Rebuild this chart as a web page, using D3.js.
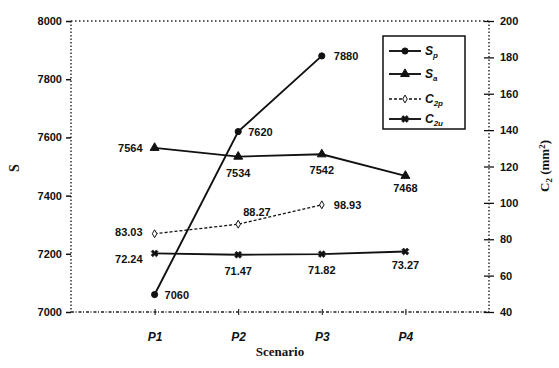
<!DOCTYPE html>
<html lang="en">
  <head>
    <meta charset="UTF-8" />
    <title>Scenario chart</title>
    <style>
      body { margin: 0; background: #fff; }
      text { font-family: "Liberation Sans", Arial, sans-serif; fill: #111; }
    </style>
  </head>
  <body>
    <div id="chart"></div>
    <script src="https://d3js.org/d3.v7.min.js"></script>
    <script>
      const scenarios = ["P1", "P2", "P3", "P4"];
      const sp = [7060, 7620, 7880];
      const sa = [7564, 7534, 7542, 7468];
      const c2p = [83.03, 88.27, 98.93];
      const c2u = [72.24, 71.47, 71.82, 73.27];
      const leftTicks = [7000, 7200, 7400, 7600, 7800, 8000];
      const rightTicks = [40, 60, 80, 100, 120, 140, 160, 180, 200];

      const width = 559, height = 368;
      const margin = { top: 21, right: 70, bottom: 56, left: 71 };

      const svg = d3.select("#chart").append("svg")
        .attr("width", width).attr("height", height);

      const x = d3.scaleLinear().domain([0, 5]).range([margin.left, width - margin.right]);
      const yL = d3.scaleLinear().domain([7000, 8000]).range([height - margin.bottom, margin.top]);
      const yR = d3.scaleLinear().domain([40, 200]).range([height - margin.bottom, margin.top]);

      const x0 = margin.left, x1 = width - margin.right;
      const y0 = height - margin.bottom, y1 = margin.top;

      // frame (dotted)
      const frame = svg.append("g").attr("stroke", "#222").attr("fill", "none");
      frame.append("line").attr("x1", x0).attr("x2", x1).attr("y1", y1).attr("y2", y1)
        .attr("stroke-width", 1.4).attr("stroke-dasharray", "1.5,2.5");
      frame.append("line").attr("x1", x0).attr("x2", x0).attr("y1", y1).attr("y2", y0)
        .attr("stroke-width", 1.4).attr("stroke-dasharray", "1.5,2");
      frame.append("line").attr("x1", x1).attr("x2", x1).attr("y1", y1).attr("y2", y0)
        .attr("stroke-width", 1.4).attr("stroke-dasharray", "1.5,2");
      frame.append("line").attr("x1", x0).attr("x2", x1).attr("y1", y0).attr("y2", y0)
        .attr("stroke-width", 1.4).attr("stroke-dasharray", "3,1.5,1,2");

      // left axis
      const gl = svg.append("g").attr("transform", `translate(${x0},0)`)
        .call(d3.axisLeft(yL).tickValues(leftTicks).tickSize(5).tickPadding(4).tickFormat(d3.format("d")));
      gl.select(".domain").remove();
      gl.selectAll("line").attr("stroke", "#111").attr("stroke-width", 1.5);
      gl.selectAll("text").attr("font-size", 11).attr("font-weight", "bold");

      // right axis
      const gr = svg.append("g").attr("transform", `translate(${x1},0)`)
        .call(d3.axisRight(yR).tickValues(rightTicks).tickSize(5).tickPadding(6));
      gr.select(".domain").remove();
      gr.selectAll("line").attr("stroke", "#111").attr("stroke-width", 1.3).attr("x1", -5);
      gr.selectAll("text").attr("font-size", 11).attr("font-weight", "bold");

      // bottom ticks / labels
      const gb = svg.append("g").attr("transform", `translate(0,${y0})`)
        .call(d3.axisBottom(x).tickValues([1, 2, 3, 4]).tickSize(3).tickPadding(17)
          .tickFormat((d) => scenarios[d - 1]));
      gb.select(".domain").remove();
      gb.selectAll("line").attr("stroke", "#111").attr("y1", -3);
      gb.selectAll("text").attr("font-size", 12).attr("font-weight", "bold").attr("font-style", "italic");

      // titles
      svg.append("text").attr("x", 280).attr("y", 356).attr("text-anchor", "middle")
        .style("font-family", "'Liberation Serif', serif").attr("font-weight", "bold").attr("font-size", 13)
        .text("Scenario");
      svg.append("text").attr("transform", "translate(19,168) rotate(-90)").attr("text-anchor", "middle")
        .style("font-family", "'Liberation Serif', serif").attr("font-weight", "bold").attr("font-size", 14)
        .text("S");
      const rt = svg.append("text").attr("transform", "translate(549,166) rotate(-90)").attr("text-anchor", "middle")
        .style("font-family", "'Liberation Serif', serif").attr("font-weight", "bold").attr("font-size", 13);
      rt.append("tspan").text("C");
      rt.append("tspan").attr("font-size", 9).attr("dy", 3).text("2");
      rt.append("tspan").attr("dy", -3).text(" (mm");
      rt.append("tspan").attr("font-size", 9).attr("dy", -4).text("2");
      rt.append("tspan").attr("dy", 4).text(")");

      const series = [
        { name: "S", sub: "p", vals: sp, y: yL, dash: null, sym: d3.symbolCircle, size: 30, fill: "#111" },
        { name: "S", sub: "a", vals: sa, y: yL, dash: null, sym: d3.symbolTriangle, size: 34, fill: "#111" },
        { name: "C", sub: "2p", vals: c2p, y: yR, dash: "3,2", sym: d3.symbolDiamond, size: 18, fill: "#fff" },
        { name: "C", sub: "2u", vals: c2u, y: yR, dash: null, sym: d3.symbolCross, size: 30, fill: "#111", xmark: true }
      ];

      series.forEach((s) => {
        const line = d3.line().x((d, i) => x(i + 1)).y((d) => s.y(d));
        svg.append("path").datum(s.vals).attr("d", line).attr("fill", "none")
          .attr("stroke", "#111").attr("stroke-width", s.dash ? 1.3 : 1.9)
          .attr("stroke-dasharray", s.dash);
        svg.selectAll(null).data(s.vals).enter().append("path")
          .attr("d", d3.symbol().type(s.sym).size(s.size))
          .attr("transform", (d, i) => `translate(${x(i + 1)},${s.y(d)})` + (s.xmark ? " rotate(45)" : ""))
          .attr("fill", s.fill).attr("stroke", "#111").attr("stroke-width", s.xmark ? 0.6 : 1);
      });

      // value labels
      const lab = (px, py, txt, anchor) => svg.append("text").attr("x", px).attr("y", py)
        .attr("text-anchor", anchor || "start").attr("font-size", 11).attr("font-weight", "bold").text(txt);
      lab(x(1) + 10, yL(sp[0]) + 4, sp[0]);
      lab(x(2) + 10, yL(sp[1]) + 4, sp[1]);
      lab(x(3) + 12, yL(sp[2]) + 4, sp[2]);
      lab(x(1) - 12, yL(sa[0]) + 4, sa[0], "end");
      lab(x(2), yL(sa[1]) + 20, sa[1], "middle");
      lab(x(3), yL(sa[2]) + 20, sa[2], "middle");
      lab(x(4), yL(sa[3]) + 16, sa[3], "middle");
      lab(x(1) - 12, yR(c2p[0]) + 2, c2p[0].toFixed(2), "end");
      lab(x(2) + 5, yR(c2p[1]) - 8, c2p[1].toFixed(2), "start");
      lab(x(3) + 12, yR(c2p[2]) + 4, c2p[2].toFixed(2));
      lab(x(1) - 12, yR(c2u[0]) + 10, c2u[0].toFixed(2), "end");
      lab(x(2), yR(c2u[1]) + 20, c2u[1].toFixed(2), "middle");
      lab(x(3), yR(c2u[2]) + 20, c2u[2].toFixed(2), "middle");
      lab(x(4), yR(c2u[3]) + 18, c2u[3].toFixed(2), "middle");

      // legend
      const lg = svg.append("g");
      lg.append("rect").attr("x", 383).attr("y", 36).attr("width", 82).attr("height", 93)
        .attr("fill", "#fff").attr("stroke", "#111").attr("stroke-width", 1.5);
      const rowsY = [51, 74, 99, 119];
      series.forEach((s, i) => {
        const yy = rowsY[i];
        lg.append("line").attr("x1", 389).attr("x2", 421).attr("y1", yy).attr("y2", yy)
          .attr("stroke", "#111").attr("stroke-width", s.dash ? 1.3 : 1.9).attr("stroke-dasharray", s.dash);
        lg.append("path").attr("d", d3.symbol().type(s.sym).size(s.size))
          .attr("transform", `translate(405,${yy})` + (s.xmark ? " rotate(45)" : ""))
          .attr("fill", s.fill).attr("stroke", "#111").attr("stroke-width", s.xmark ? 0.6 : 1);
        const t = lg.append("text").attr("x", 425).attr("y", yy + 4).attr("font-size", 12)
          .attr("font-style", "italic").attr("font-weight", "bold");
        t.append("tspan").text(s.name);
        t.append("tspan").attr("font-size", 8).attr("dy", 3).text(s.sub);
      });
    </script>
  </body>
</html>
